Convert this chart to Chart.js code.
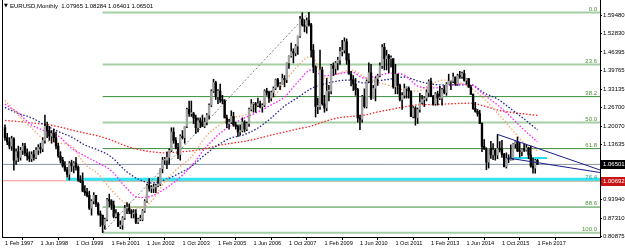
<!DOCTYPE html>
<html>
<head>
<meta charset="utf-8">
<script src="https://cdn.jsdelivr.net/npm/chart.js@4/dist/chart.umd.min.js"></script>
<style>
  html, body { margin: 0; padding: 0; background: #fff; }
  canvas { display: block; }
</style>
</head>
<body>
<canvas id="chart" width="625" height="250"></canvas>
<script>
// monthly candles, Feb 1997 .. Feb 2017 (one row per 12 months)
const opens = [
  1.195,1.160,1.145,1.130,1.155,1.080,1.110,1.090,1.115,1.130,1.105,1.095,
  1.085,1.100,1.090,1.115,1.125,1.120,1.150,1.200,1.185,1.165,1.175,1.160,
  1.130,1.095,1.080,1.060,1.045,1.030,1.070,1.060,1.070,1.055,1.010,1.005,
  0.970,0.965,0.955,0.910,0.935,0.955,0.925,0.890,0.885,0.850,0.870,0.940,
  0.935,0.920,0.880,0.890,0.845,0.850,0.875,0.910,0.910,0.900,0.890,0.890,
  0.860,0.870,0.870,0.900,0.935,0.990,0.980,0.980,0.985,0.990,0.995,1.050,
  1.080,1.080,1.090,1.115,1.180,1.150,1.125,1.100,1.165,1.160,1.200,1.260,
  1.245,1.245,1.230,1.195,1.220,1.215,1.200,1.215,1.240,1.275,1.325,1.355,
  1.305,1.325,1.295,1.290,1.230,1.210,1.215,1.235,1.205,1.200,1.180,1.185,
  1.215,1.190,1.210,1.260,1.280,1.280,1.275,1.280,1.270,1.275,1.325,1.320,
  1.300,1.320,1.335,1.365,1.345,1.350,1.370,1.365,1.425,1.450,1.465,1.460,
  1.485,1.520,1.580,1.560,1.555,1.575,1.560,1.470,1.410,1.270,1.270,1.400,
  1.280,1.265,1.325,1.325,1.415,1.405,1.425,1.435,1.465,1.470,1.500,1.435,
  1.385,1.365,1.350,1.330,1.230,1.225,1.305,1.270,1.360,1.390,1.300,1.335,
  1.370,1.380,1.415,1.480,1.440,1.450,1.440,1.440,1.340,1.385,1.345,1.295,
  1.310,1.335,1.335,1.325,1.235,1.265,1.230,1.260,1.285,1.295,1.300,1.320,
  1.360,1.305,1.280,1.315,1.300,1.300,1.330,1.320,1.350,1.360,1.360,1.375,
  1.350,1.380,1.377,1.387,1.363,1.369,1.339,1.313,1.263,1.253,1.245,1.210,
  1.129,1.120,1.073,1.122,1.099,1.115,1.098,1.121,1.118,1.100,1.057,1.086,
  1.083,1.087,1.138,1.145,1.113,1.111,1.117,1.116,1.124,1.098,1.059,1.052,
  1.07965
];
const highs = [
  1.205,1.175,1.160,1.165,1.160,1.120,1.130,1.125,1.140,1.140,1.120,1.110,
  1.110,1.115,1.125,1.135,1.140,1.160,1.240,1.215,1.200,1.185,1.190,1.180,
  1.140,1.110,1.090,1.075,1.055,1.075,1.080,1.075,1.090,1.060,1.025,1.035,
  0.990,0.980,0.970,0.940,0.965,0.955,0.930,0.900,0.885,0.875,0.945,0.960,
  0.940,0.935,0.905,0.895,0.865,0.880,0.920,0.930,0.925,0.905,0.905,0.905,
  0.875,0.885,0.905,0.940,0.995,1.015,0.990,0.995,0.995,1.020,1.050,1.090,
  1.090,1.110,1.120,1.195,1.195,1.160,1.140,1.170,1.185,1.200,1.265,1.290,
  1.290,1.250,1.240,1.230,1.230,1.240,1.230,1.245,1.280,1.330,1.367,1.360,
  1.330,1.350,1.310,1.295,1.240,1.225,1.255,1.250,1.215,1.205,1.205,1.230,
  1.220,1.215,1.265,1.295,1.285,1.285,1.300,1.290,1.280,1.330,1.335,1.325,
  1.325,1.340,1.368,1.370,1.355,1.385,1.380,1.425,1.450,1.495,1.475,1.490,
  1.520,1.590,1.603,1.578,1.585,1.604,1.565,1.490,1.415,1.300,1.470,1.410,
  1.310,1.370,1.345,1.420,1.425,1.430,1.445,1.480,1.505,1.514,1.510,1.458,
  1.395,1.380,1.370,1.335,1.240,1.310,1.333,1.365,1.425,1.420,1.345,1.375,
  1.385,1.425,1.490,1.494,1.470,1.455,1.450,1.440,1.420,1.385,1.350,1.320,
  1.350,1.340,1.340,1.325,1.270,1.270,1.265,1.317,1.310,1.305,1.330,1.365,
  1.371,1.310,1.320,1.325,1.342,1.335,1.345,1.355,1.385,1.362,1.389,1.375,
  1.385,1.395,1.392,1.399,1.370,1.370,1.345,1.315,1.285,1.260,1.257,1.212,
  1.153,1.124,1.122,1.147,1.139,1.121,1.171,1.146,1.150,1.104,1.106,1.099,
  1.134,1.140,1.146,1.162,1.143,1.119,1.137,1.133,1.126,1.130,1.087,1.083,
  1.08284
];
const lows = [
  1.150,1.135,1.120,1.115,1.045,1.065,1.075,1.080,1.100,1.095,1.080,1.075,
  1.075,1.080,1.085,1.100,1.105,1.110,1.140,1.160,1.150,1.140,1.145,1.120,
  1.090,1.070,1.055,1.040,1.020,1.010,1.040,1.035,1.045,1.005,1.000,0.968,
  0.955,0.950,0.905,0.885,0.925,0.915,0.885,0.845,0.823,0.835,0.865,0.915,
  0.905,0.875,0.875,0.845,0.837,0.835,0.870,0.890,0.890,0.875,0.875,0.855,
  0.855,0.865,0.865,0.895,0.930,0.970,0.965,0.965,0.965,0.985,0.990,1.035,
  1.065,1.050,1.065,1.110,1.140,1.120,1.085,1.080,1.155,1.140,1.195,1.235,
  1.235,1.210,1.175,1.180,1.195,1.200,1.195,1.205,1.225,1.270,1.320,1.295,
  1.280,1.285,1.280,1.230,1.195,1.190,1.210,1.200,1.190,1.164,1.170,1.180,
  1.180,1.185,1.200,1.255,1.250,1.250,1.270,1.265,1.250,1.270,1.310,1.285,
  1.290,1.305,1.330,1.340,1.330,1.350,1.340,1.355,1.405,1.445,1.425,1.450,
  1.455,1.515,1.555,1.535,1.530,1.555,1.445,1.390,1.233,1.245,1.260,1.275,
  1.250,1.255,1.290,1.315,1.380,1.385,1.400,1.420,1.450,1.460,1.420,1.385,
  1.343,1.327,1.310,1.215,1.188,1.215,1.265,1.265,1.355,1.295,1.300,1.290,
  1.345,1.375,1.405,1.400,1.400,1.390,1.410,1.335,1.315,1.315,1.290,1.260,
  1.300,1.300,1.300,1.235,1.230,1.204,1.210,1.250,1.280,1.270,1.290,1.305,
  1.305,1.275,1.275,1.275,1.295,1.275,1.315,1.310,1.350,1.330,1.355,1.345,
  1.345,1.370,1.370,1.360,1.350,1.338,1.313,1.260,1.250,1.236,1.210,1.110,
  1.118,1.046,1.052,1.086,1.082,1.080,1.085,1.109,1.090,1.056,1.052,1.071,
  1.080,1.081,1.124,1.110,1.091,1.095,1.110,1.112,1.085,1.055,1.034,1.034,
  1.06401
];
const closes = [
  1.160,1.145,1.130,1.155,1.080,1.110,1.090,1.115,1.130,1.105,1.095,1.085,
  1.100,1.090,1.115,1.125,1.120,1.150,1.200,1.185,1.165,1.175,1.160,1.130,
  1.095,1.080,1.060,1.045,1.030,1.070,1.060,1.070,1.055,1.010,1.005,0.970,
  0.965,0.955,0.910,0.935,0.955,0.925,0.890,0.885,0.850,0.870,0.940,0.935,
  0.920,0.880,0.890,0.845,0.850,0.875,0.910,0.910,0.900,0.890,0.890,0.860,
  0.870,0.870,0.900,0.935,0.990,0.980,0.980,0.985,0.990,0.995,1.050,1.080,
  1.080,1.090,1.115,1.180,1.150,1.125,1.100,1.165,1.160,1.200,1.260,1.245,
  1.245,1.230,1.195,1.220,1.215,1.200,1.215,1.240,1.275,1.325,1.355,1.305,
  1.325,1.295,1.290,1.230,1.210,1.215,1.235,1.205,1.200,1.180,1.185,1.215,
  1.190,1.210,1.260,1.280,1.280,1.275,1.280,1.270,1.275,1.325,1.320,1.300,
  1.320,1.335,1.365,1.345,1.350,1.370,1.365,1.425,1.450,1.465,1.460,1.485,
  1.520,1.580,1.560,1.555,1.575,1.560,1.470,1.410,1.270,1.270,1.400,1.280,
  1.265,1.325,1.325,1.415,1.405,1.425,1.435,1.465,1.470,1.500,1.435,1.385,
  1.365,1.350,1.330,1.230,1.225,1.305,1.270,1.360,1.390,1.300,1.335,1.370,
  1.380,1.415,1.480,1.440,1.450,1.440,1.440,1.340,1.385,1.345,1.295,1.310,
  1.335,1.335,1.325,1.235,1.265,1.230,1.260,1.285,1.295,1.300,1.320,1.360,
  1.305,1.280,1.315,1.300,1.300,1.330,1.320,1.350,1.360,1.360,1.375,1.350,
  1.380,1.377,1.387,1.363,1.369,1.339,1.313,1.263,1.253,1.245,1.210,1.129,
  1.120,1.073,1.122,1.099,1.115,1.098,1.121,1.118,1.100,1.057,1.086,1.083,
  1.087,1.138,1.145,1.113,1.111,1.117,1.116,1.124,1.098,1.059,1.052,1.0797,
  1.06501
];

// moving averages every 6 months
const maIdx = [0,6,12,18,24,30,36,42,48,54,60,66,72,78,84,90,96,102,108,114,120,
  126,132,138,144,150,156,162,168,174,180,186,192,198,204,210,216,222,228,234,240];
const maFast = [1.293,1.240,1.194,1.152,1.141,1.130,1.066,1.031,0.974,0.928,0.910,0.935,1.003,1.052,
  1.091,1.159,1.201,1.230,1.240,1.272,1.293,1.357,1.414,1.449,1.371,1.386,1.400,1.375,1.357,1.343,
  1.329,1.325,1.350,1.364,1.357,1.336,1.297,1.247,1.194,1.141,1.113];
const maMid = [1.279,1.247,1.205,1.184,1.166,1.123,1.095,1.070,1.042,0.988,0.948,0.953,0.978,1.013,
  1.059,1.120,1.169,1.205,1.230,1.251,1.276,1.304,1.357,1.400,1.379,1.386,1.393,1.371,1.379,1.389,
  1.382,1.343,1.336,1.340,1.350,1.347,1.311,1.276,1.233,1.187,1.145];
const maSlow = [1.267,1.246,1.230,1.205,1.182,1.162,1.134,1.116,1.091,1.045,1.013,0.999,1.010,1.031,
  1.058,1.098,1.134,1.159,1.171,1.194,1.230,1.272,1.302,1.334,1.350,1.361,1.364,1.354,1.361,1.368,
  1.375,1.361,1.350,1.347,1.347,1.347,1.318,1.297,1.262,1.226,1.187];
const maLong = [1.221,1.217,1.212,1.207,1.199,1.187,1.176,1.166,1.151,1.132,1.118,1.110,1.106,1.109,
  1.113,1.120,1.132,1.140,1.147,1.157,1.169,1.180,1.191,1.201,1.217,1.230,1.235,1.240,1.251,1.260,
  1.269,1.276,1.277,1.279,1.281,1.282,1.272,1.258,1.250,1.244,1.239];

const xTickIdx = [0,16,32,48,64,80,96,112,128,144,160,176,192,208,224,240];
const xTickLabels = ['1 Feb 1997','1 Jun 1998','1 Oct 1999','1 Feb 2001','1 Jun 2002','1 Oct 2003',
  '1 Feb 2005','1 Jun 2006','1 Oct 2007','1 Feb 2009','1 Jun 2010','1 Oct 2011','1 Feb 2013',
  '1 Jun 2014','1 Oct 2015','1 Feb 2017'];
const yTickVals = [1.59480,1.52830,1.46395,1.39765,1.33135,1.26700,1.20070,1.13635,0.93940,0.87310,0.80875];

const fibLevels = [1.6038,1.4195,1.3055,1.2133,1.1211,1.0071,0.9137,0.8228];
const fibNames = ['0.0','23.6','38.2','50.0','61.8','76.4','88.6','100.0'];
const bidPrice = 1.06501;
const alertPrice = 1.00692;
const zonePrice = 1.0125;
const boxPrice = 1.0877;

const X_MIN = -1.35, X_MAX = 268.2;
const FONT = '"Liberation Sans", Arial, sans-serif';
Chart.defaults.font.family = FONT;

function hline(price, from, to, color, width, dash, order) {
  return {
    type: 'line',
    data: [{x: from, y: price}, {x: to, y: price}],
    borderColor: color,
    borderWidth: width,
    borderDash: dash || [],
    pointRadius: 0,
    order: order || 6
  };
}

function maLine(values, color) {
  return {
    type: 'line',
    data: values.map((v, k) => ({x: maIdx[k], y: v})),
    borderColor: color,
    borderWidth: 1.3,
    borderDash: [1.5, 1.8],
    pointRadius: 0,
    cubicInterpolationMode: 'monotone',
    order: 4
  };
}

const bodyColors = closes.map((c, i) => c >= opens[i] ? '#a3a3a3' : '#000000');

const datasets = [
  // trend lines on top
  { type: 'line', data: [{x: 222, y: 1.1714}, {x: X_MAX, y: 1.0452}], borderColor: '#1c1c8a',
    borderWidth: 1, pointRadius: 0, order: 0 },
  { type: 'line', data: [{x: 226.7, y: boxPrice}, {x: X_MAX, y: 1.0363}], borderColor: '#1c1c8a',
    borderWidth: 1, pointRadius: 0, order: 0 },
  hline(boxPrice, 226.7, 244.3, '#22e0f0', 2, null, 0),
  // candles
  { type: 'bar', data: opens.map((o, i) => ({x: i, y: [o, closes[i]]})), backgroundColor: bodyColors,
    barThickness: 1.7, grouped: false, minBarLength: 1, order: 1 },
  { type: 'bar', data: lows.map((l, i) => ({x: i, y: [l, highs[i]]})), backgroundColor: '#000',
    barThickness: 0.9, grouped: false, order: 2 },
  // fib helper line
  { type: 'line', data: [{x: 44, y: 0.8228}, {x: 137, y: 1.6038}], borderColor: '#7a7a7a',
    borderWidth: 1, borderDash: [2, 2], pointRadius: 0, order: 3 },
  maLine(maFast, '#f5a56a'),
  maLine(maMid, '#ff1cff'),
  maLine(maSlow, '#22228f'),
  maLine(maLong, '#ff2020'),
  hline(bidPrice, X_MIN, X_MAX, '#8796a6', 1),
  hline(zonePrice, 27.5, X_MAX, '#2fe6f2', 3),
  hline(alertPrice, X_MIN, X_MAX, '#f09090', 1)
];

fibLevels.forEach((lv, k) => {
  const heavy = k === 2 || k === 4 || k === 6;
  datasets.push(hline(lv, 44, X_MAX, heavy ? '#3c8f3c' : '#a6cfa6', heavy ? 1 : 2, null, 7));
});

const decor = {
  id: 'decor',
  afterDraw(chart) {
    const { ctx, chartArea: a, scales: { y } } = chart;
    ctx.save();
    // left frame
    ctx.strokeStyle = '#000';
    ctx.lineWidth = 1;
    ctx.beginPath();
    ctx.moveTo(a.left + 0.5, a.top);
    ctx.lineTo(a.left + 0.5, a.bottom);
    ctx.stroke();

    // fib level labels
    ctx.font = '6px ' + FONT;
    ctx.textAlign = 'right';
    ctx.textBaseline = 'bottom';
    fibLevels.forEach((lv, k) => {
      ctx.fillStyle = k === 5 ? '#2a9a9a' : '#4a8f3a';
      ctx.fillText(fibNames[k], a.right - 3, y.getPixelForValue(lv) - 0.5);
    });

    // title
    ctx.textAlign = 'left';
    ctx.textBaseline = 'middle';
    ctx.fillStyle = '#000';
    ctx.font = '5px "DejaVu Sans"';
    ctx.fillText('\u25BC', 4, 6);
    ctx.font = '6px ' + FONT;
    ctx.fillText('EURUSD,Monthly  1.07965 1.08284 1.06401 1.06501', 10, 6);

    // price boxes on the axis
    const boxes = [[bidPrice, '#000000'], [alertPrice, '#c81414']];
    boxes.forEach(([p, bg]) => {
      const py = Math.round(y.getPixelForValue(p));
      ctx.fillStyle = bg;
      ctx.fillRect(a.right + 1, py - 4, 24, 9);
      ctx.fillStyle = '#fff';
      ctx.fillText(p.toFixed(5), a.right + 3, py + 0.5);
    });
    ctx.restore();
  }
};

new Chart(document.getElementById('chart'), {
  type: 'bar',
  data: { datasets },
  options: {
    responsive: false,
    animation: false,
    layout: { padding: { left: 2, top: 0, right: 0, bottom: 0 } },
    plugins: { legend: { display: false }, tooltip: { enabled: false } },
    scales: {
      x: {
        type: 'linear',
        min: X_MIN,
        max: X_MAX,
        offset: false,
        afterBuildTicks: s => { s.ticks = xTickIdx.map(v => ({ value: v })); },
        afterFit: s => { s.height = 13; s.paddingLeft = 0; s.paddingRight = 0; },
        ticks: {
          autoSkip: false,
          maxRotation: 0,
          align: 'start',
          padding: 0,
          color: '#000',
          font: { size: 5.6 },
          callback: (v, i) => xTickLabels[i]
        },
        grid: { drawOnChartArea: false, drawTicks: true, tickLength: 3, color: '#000' },
        border: { display: true, color: '#000', width: 1 }
      },
      y: {
        type: 'linear',
        position: 'right',
        min: 0.80759,
        max: 1.64799,
        afterBuildTicks: s => { s.ticks = yTickVals.map(v => ({ value: v })); },
        afterFit: s => { s.width = 25; s.paddingTop = 0; s.paddingBottom = 0; },
        ticks: {
          padding: 1,
          color: '#000',
          font: { size: 6 },
          callback: v => v.toFixed(5)
        },
        grid: { drawOnChartArea: false, drawTicks: true, tickLength: 2, color: '#000' },
        border: { display: true, color: '#000', width: 1 }
      }
    }
  },
  plugins: [decor]
});
</script>
</body>
</html>
